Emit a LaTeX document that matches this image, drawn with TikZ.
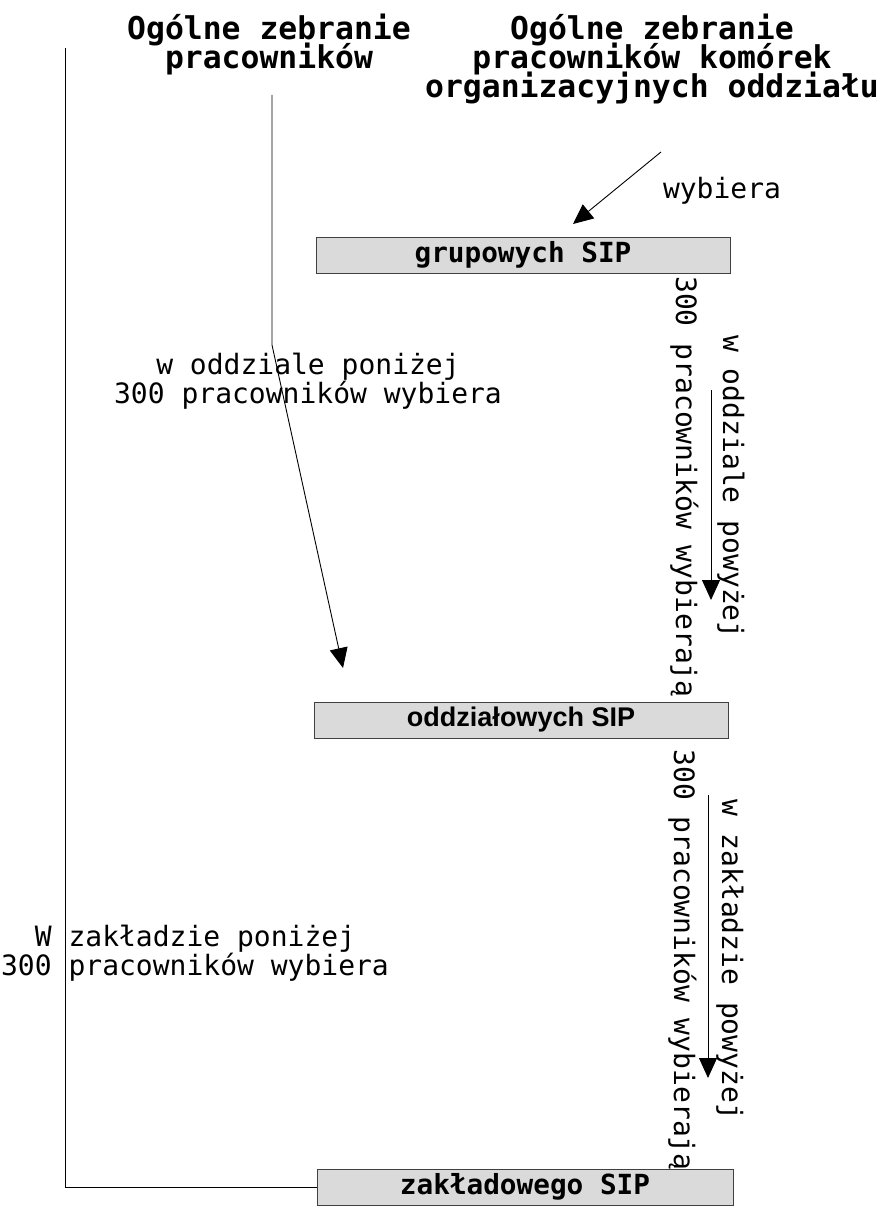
\documentclass[tikz,border=0pt]{standalone}
\usepackage{fontspec}
\setmonofont{DejaVu Sans Mono}
\newfontfamily\sansb{Liberation Sans}
\usetikzlibrary{arrows.meta}
\definecolor{boxgray}{RGB}{218,218,218}
\newcommand\mytightls{\lineskiplimit=-30pt\relax\lineskip=0pt\relax}
\tikzset{
  title/.style={font={\ttfamily\bfseries\fontsize{31.4}{29}\selectfont\mytightls}, align=center, inner sep=0pt},
  lbl/.style={font={\ttfamily\fontsize{28}{29}\selectfont\mytightls}, align=center, inner sep=0pt},
  sipbox/.style={draw=black!75, line width=1pt, fill=boxgray, minimum width=414pt, minimum height=36pt, inner sep=0pt, font={\ttfamily\bfseries\fontsize{27.7}{29}\selectfont}},
  conn/.style={line width=0.9pt, black},
  arr/.style={conn, -{Triangle[length=20pt,width=18pt]}},
}
\begin{document}
\begin{tikzpicture}[x=1pt,y=-1pt]
\useasboundingbox (0,0) rectangle (884,1209);
% titles
\node[title] (t1) at (269,45) {Ogólne zebranie\\pracowników};
\node[title] (t2) at (652,59) {Ogólne zebranie\\pracowników komórek\\organizacyjnych oddziału};
% boxes
\node[sipbox] (g) at (523,255) {grupowych SIP};
\node[sipbox, font={\sansb\bfseries\fontsize{27}{29}\selectfont}] (o) at (521,720) {oddziałowych SIP};
\node[sipbox, minimum width=416pt] (z) at (525,1187) {zakładowego SIP};
% labels
\node[lbl] (l1) at (308,381) {w oddziale poniżej\\300 pracowników wybiera};
\node[lbl] (l2) at (195,953) {W zakładzie poniżej\\300 pracowników wybiera};
\node[lbl, anchor=base] (lw) at (722,198) {wybiera};
\node[lbl, rotate=-90, anchor=base] (r1a) at (723,487) {w oddziale powyżej};
\node[lbl, rotate=-90, anchor=base] (r1b) at (676,487) {300 pracowników wybierają};
\node[lbl, rotate=-90, anchor=base] (r2a) at (722,960) {w zakładzie powyżej};
\node[lbl, rotate=-90, anchor=base] (r2b) at (674,960) {300 pracowników wybierają};
% connectors
\coordinate (p0) at (65,48);
\draw[conn] (p0) |- (z.west);
\coordinate (q0) at (272,95);
\coordinate (q1) at (272,345);
\coordinate (q2) at (343,668);
\draw[arr] (q0) -- (q1) -- (q2);
\coordinate (s0) at (661,152);
\coordinate (s1) at (573,224);
\draw[arr] (s0) -- (s1);
\coordinate (u0) at (711,390);
\coordinate (u1) at (711,600);
\draw[arr] (u0) -- (u1);
\coordinate (v0) at (708,795);
\coordinate (v1) at (708,1078);
\draw[arr] (v0) -- (v1);
\end{tikzpicture}
\end{document}
